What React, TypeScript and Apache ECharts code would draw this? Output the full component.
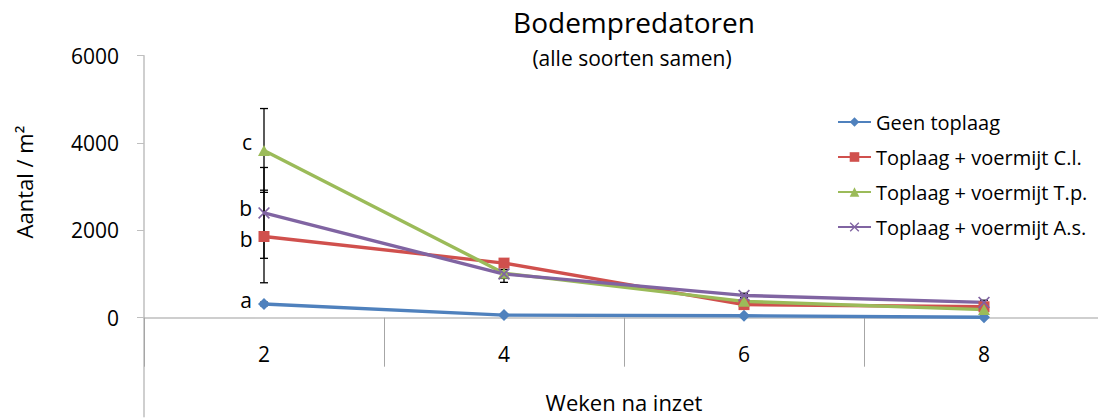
import React, { useEffect, useRef } from "react";
import * as echarts from "echarts";

const weeks = ["2", "4", "6", "8"];
const seriesNames = [
  "Geen toplaag",
  "Toplaag + voermijt C.l.",
  "Toplaag + voermijt T.p.",
  "Toplaag + voermijt A.s.",
];
const geen = [315, 60, 45, 10];
const cl = [1860, 1250, 300, 250];
const tp = [3830, 1020, 375, 185];
const as = [2400, 1000, 510, 350];
const geenErr = [40, 20, 10, 10];
const clErr = [1060, 100, 60, 60];
const tpErr = [960, 210, 80, 50];
const asErr = [1040, 100, 50, 50];
const letters = ["a", "b", "c", "b"];
const yTicks = [0, 2000, 4000, 6000];

const colors = ["#4F81BD", "#D0504D", "#9BBB59", "#8064A2"];
const symbols = [
  "diamond",
  "rect",
  "triangle",
  "path://M0,1 L1,0 L5,4 L9,0 L10,1 L6,5 L10,9 L9,10 L5,6 L1,10 L0,9 L4,5 Z",
];
const symbolSizes: any[] = [12, 11, [12, 11], 12];
const labelOffsets = [
  [0, -4],
  [0, 3],
  [0, -8],
  [0, -5],
];

const FONT = '"Open Sans", "Noto Sans", sans-serif';

export default function App() {
  const ref = useRef<HTMLDivElement>(null);
  useEffect(() => {
    if (!ref.current) return;
    const chart = echarts.init(ref.current, undefined, { renderer: "svg" });
    const values = [geen, cl, tp, as];
    const errs = [geenErr, clErr, tpErr, asErr];

    const lineSeries = values.map((vals, si) => ({
      type: "line",
      name: seriesNames[si],
      z: 3,
      clip: false,
      symbol: symbols[si],
      symbolSize: symbolSizes[si],
      lineStyle: { width: 3.4, color: colors[si] },
      itemStyle: { color: colors[si] },
      data: vals.map((v, i) =>
        i === 0
          ? {
              value: v,
              label: {
                show: true,
                formatter: letters[si],
                position: "left",
                distance: 6,
                offset: labelOffsets[si],
                color: "#000",
                fontSize: 21,
                fontFamily: FONT,
              },
            }
          : v
      ),
    }));

    const errData: any[] = [];
    values.forEach((vals, si) => {
      vals.forEach((v, i) => {
        errData.push([i, v - errs[si][i], v + errs[si][i]]);
      });
    });

    const errSeries = {
      type: "custom",
      name: "err",
      z: 1,
      silent: true,
      clip: false,
      encode: { x: 0, y: [1, 2] },
      data: errData,
      renderItem: (params: any, api: any) => {
        const x = api.value(0);
        const lo = api.coord([x, api.value(1)]);
        const hi = api.coord([x, api.value(2)]);
        const w = 4;
        const st = { stroke: "#000", lineWidth: 1.3 };
        return {
          type: "group",
          children: [
            { type: "line", shape: { x1: lo[0], y1: lo[1], x2: hi[0], y2: hi[1] }, style: st },
            { type: "line", shape: { x1: lo[0] - w, y1: lo[1], x2: lo[0] + w, y2: lo[1] }, style: st },
            { type: "line", shape: { x1: hi[0] - w, y1: hi[1], x2: hi[0] + w, y2: hi[1] }, style: st },
          ],
        };
      },
    };

    chart.setOption({
      animation: false,
      textStyle: { fontFamily: FONT },
      grid: [
        {
          left: 144,
          right: -6,
          top: 55.7,
          bottom: 101.3,
          containLabel: false,
          outerBoundsMode: "none",
        },
        {
          left: 144,
          right: -6,
          top: 317.7,
          bottom: 2.3,
          containLabel: false,
          outerBoundsMode: "none",
        },
      ],
      legend: {
        orient: "vertical",
        left: 837,
        top: 112,
        padding: 0,
        itemWidth: 33,
        itemHeight: 12,
        itemGap: 15,
        data: seriesNames,
        textStyle: { fontSize: 20, color: "#000", fontFamily: FONT, lineHeight: 20 },
      },
      xAxis: [
        {
          type: "category",
          gridIndex: 0,
          data: weeks,
          boundaryGap: true,
          axisLine: { onZero: false, lineStyle: { color: "#BFBFBF", width: 1.5 } },
          axisTick: { show: true, length: 49, inside: false, lineStyle: { color: "#A6A6A6", width: 1 } },
          axisLabel: { margin: 26, fontSize: 21, color: "#000", fontFamily: FONT },
          splitLine: { show: false },
          name: "Weken na inzet",
          nameLocation: "middle",
          nameGap: 73,
          nameTextStyle: { fontSize: 22, color: "#000", fontFamily: FONT },
        },
        {
          type: "category",
          gridIndex: 1,
          data: weeks,
          show: false,
        },
      ],
      yAxis: [
        {
          type: "value",
          gridIndex: 0,
          min: 0,
          max: 6000,
          axisLine: { show: true, onZero: false, lineStyle: { color: "#BFBFBF", width: 1.5 } },
          axisTick: { show: true, length: 7, customValues: yTicks, lineStyle: { color: "#BFBFBF" } },
          axisLabel: {
            customValues: yTicks,
            formatter: (v: number) => String(v),
            margin: 25,
            fontSize: 21,
            color: "#000",
            fontFamily: FONT,
          },
          splitLine: { show: false },
        },
        {
          type: "value",
          gridIndex: 1,
          min: 0,
          max: 1,
          axisLine: { show: true, onZero: false, lineStyle: { color: "#BFBFBF", width: 1.5 } },
          axisTick: { show: false },
          axisLabel: { show: false },
          splitLine: { show: false },
        },
      ],
      graphic: [
        {
          type: "text",
          x: 634,
          y: 22,
          style: {
            text: "Bodempredatoren",
            font: `28px ${FONT}`,
            fill: "#000",
            textAlign: "center",
            textVerticalAlign: "middle",
          },
        },
        {
          type: "text",
          x: 632,
          y: 58,
          style: {
            text: "(alle soorten samen)",
            font: `21px ${FONT}`,
            fill: "#000",
            textAlign: "center",
            textVerticalAlign: "middle",
          },
        },
        {
          type: "text",
          x: 24,
          y: 182,
          rotation: Math.PI / 2,
          style: {
            text: "Aantal / m²",
            font: `22px ${FONT}`,
            fill: "#000",
            textAlign: "center",
            textVerticalAlign: "middle",
          },
        },
      ],
      series: [...lineSeries, errSeries],
    });
    return () => chart.dispose();
  }, []);
  return (
    <div
      ref={ref}
      style={{ position: "fixed", left: 0, top: 0, width: 1098, height: 419, background: "#fff" }}
    />
  );
}
